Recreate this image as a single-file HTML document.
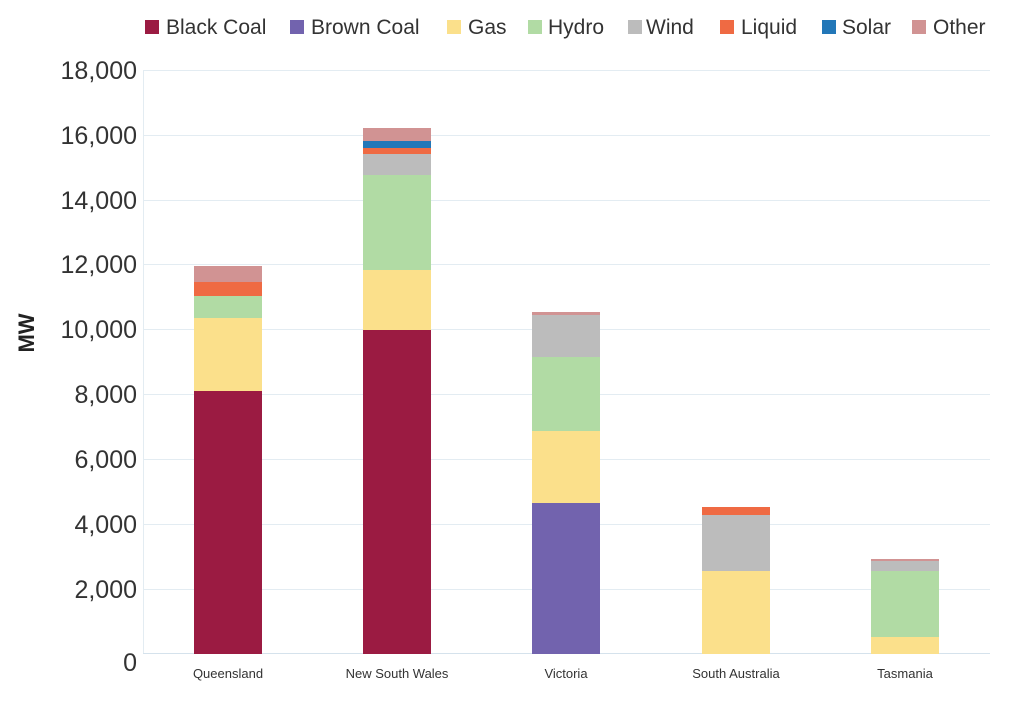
<!DOCTYPE html>
<html><head><meta charset="utf-8"><style>
body{margin:0;background:#fff;}
svg{display:block;font-family:"Liberation Sans",sans-serif;}
</style></head><body>
<svg width="1024" height="707" xmlns="http://www.w3.org/2000/svg">
<g fill="#333" font-size="21">
<rect x="145" y="20" width="14" height="14" fill="#9b1b42"/><text x="166" y="34">Black Coal</text>
<rect x="290" y="20" width="14" height="14" fill="#7263ae"/><text x="311" y="34">Brown Coal</text>
<rect x="447" y="20" width="14" height="14" fill="#fbe08b"/><text x="468" y="34">Gas</text>
<rect x="528" y="20" width="14" height="14" fill="#b1dba4"/><text x="548" y="34">Hydro</text>
<rect x="628" y="20" width="14" height="14" fill="#bcbcbc"/><text x="646" y="34">Wind</text>
<rect x="720" y="20" width="14" height="14" fill="#ef6a43"/><text x="741" y="34">Liquid</text>
<rect x="822" y="20" width="14" height="14" fill="#2277b8"/><text x="842" y="34">Solar</text>
<rect x="912" y="20" width="14" height="14" fill="#d19393"/><text x="933" y="34">Other</text>
</g>
<g stroke="#e3ecf2" stroke-width="1">
<line x1="143" y1="70.5" x2="990" y2="70.5"/>
<line x1="143" y1="135.5" x2="990" y2="135.5"/>
<line x1="143" y1="200.5" x2="990" y2="200.5"/>
<line x1="143" y1="264.5" x2="990" y2="264.5"/>
<line x1="143" y1="329.5" x2="990" y2="329.5"/>
<line x1="143" y1="394.5" x2="990" y2="394.5"/>
<line x1="143" y1="459.5" x2="990" y2="459.5"/>
<line x1="143" y1="524.5" x2="990" y2="524.5"/>
<line x1="143" y1="589.5" x2="990" y2="589.5"/>
<line x1="143.5" y1="70" x2="143.5" y2="654"/>
</g>
<line x1="143" y1="653.5" x2="990" y2="653.5" stroke="#d5e2ec"/>
<g fill="#333" font-size="25" text-anchor="end">
<text x="137" y="79">18,000</text>
<text x="137" y="144">16,000</text>
<text x="137" y="209">14,000</text>
<text x="137" y="273">12,000</text>
<text x="137" y="338">10,000</text>
<text x="137" y="403">8,000</text>
<text x="137" y="468">6,000</text>
<text x="137" y="533">4,000</text>
<text x="137" y="598">2,000</text>
<text x="137" y="671">0</text>
</g>
<text transform="translate(34,333) rotate(-90)" text-anchor="middle" font-size="22" font-weight="bold" fill="#222">MW</text>
<rect x="194" y="391" width="68" height="263" fill="#9b1b42"/>
<rect x="194" y="318" width="68" height="73" fill="#fbe08b"/>
<rect x="194" y="296" width="68" height="22" fill="#b1dba4"/>
<rect x="194" y="282" width="68" height="14" fill="#ef6a43"/>
<rect x="194" y="266" width="68" height="16" fill="#d19393"/>
<rect x="363" y="330" width="68" height="324" fill="#9b1b42"/>
<rect x="363" y="270" width="68" height="60" fill="#fbe08b"/>
<rect x="363" y="175" width="68" height="95" fill="#b1dba4"/>
<rect x="363" y="154" width="68" height="21" fill="#bcbcbc"/>
<rect x="363" y="148" width="68" height="6" fill="#ef6a43"/>
<rect x="363" y="141" width="68" height="7" fill="#2277b8"/>
<rect x="363" y="128" width="68" height="13" fill="#d19393"/>
<rect x="532" y="503" width="68" height="151" fill="#7263ae"/>
<rect x="532" y="431" width="68" height="72" fill="#fbe08b"/>
<rect x="532" y="357" width="68" height="74" fill="#b1dba4"/>
<rect x="532" y="315" width="68" height="42" fill="#bcbcbc"/>
<rect x="532" y="312" width="68" height="3" fill="#d19393"/>
<rect x="702" y="571" width="68" height="83" fill="#fbe08b"/>
<rect x="702" y="515" width="68" height="56" fill="#bcbcbc"/>
<rect x="702" y="507" width="68" height="8" fill="#ef6a43"/>
<rect x="871" y="637" width="68" height="17" fill="#fbe08b"/>
<rect x="871" y="571" width="68" height="66" fill="#b1dba4"/>
<rect x="871" y="561" width="68" height="10" fill="#bcbcbc"/>
<rect x="871" y="559" width="68" height="2" fill="#d19393"/>
<g fill="#333" font-size="13" text-anchor="middle">
<text x="228" y="678">Queensland</text>
<text x="397" y="678">New South Wales</text>
<text x="566" y="678">Victoria</text>
<text x="736" y="678">South Australia</text>
<text x="905" y="678">Tasmania</text>
</g>
</svg>
</body></html>
